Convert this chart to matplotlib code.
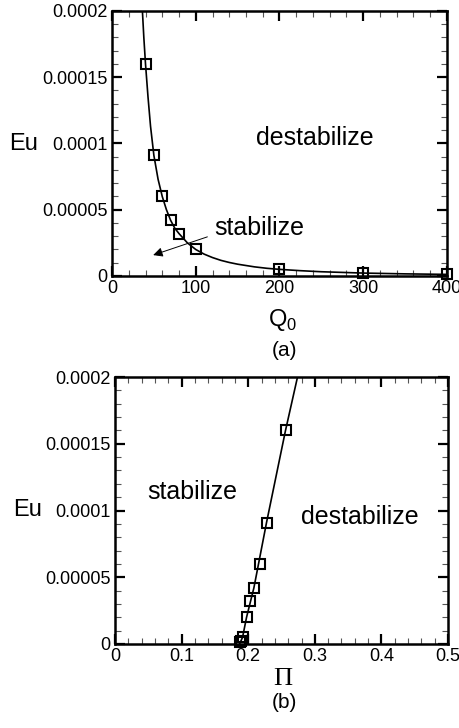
import matplotlib
matplotlib.use('Agg')
from matplotlib import pyplot as plt
from matplotlib.ticker import MultipleLocator, FixedFormatter, FixedLocator

plt.rcParams['font.family'] = ['Liberation Sans', 'DejaVu Sans']

# measured points (squares)
q0 = [40, 50, 60, 70, 80, 100, 200, 300, 400]
eu = [0.00016, 0.000091, 0.00006, 0.000042, 0.000032, 0.00002, 0.000005, 0.0000022, 0.0000012]
pi_vals = [0.256, 0.2275, 0.2175, 0.2085, 0.2025, 0.1975, 0.1915, 0.1895, 0.188]

# boundary curves
curve_q = [36.3, 38, 40, 43, 46, 50, 55, 60, 65, 70, 75, 80, 90, 100, 110, 120, 130, 140, 150,
           170, 185, 200, 225, 250, 275, 300, 350, 400]
curve_eu = [0.0002, 0.00018, 0.00016, 0.000135, 0.000113, 0.000091, 0.000073, 0.00006, 0.00005,
            0.000042, 0.000036, 0.000032, 0.000025, 0.00002, 0.0000165, 0.0000139, 0.0000118,
            0.0000102, 0.0000089, 0.0000069, 0.0000058, 0.000005, 0.000004, 0.0000032,
            0.0000027, 0.0000022, 0.0000016, 0.0000012]
line_pi = [0.187, 0.1915, 0.1975, 0.2085, 0.2275, 0.256, 0.274]
line_eu = [0.0, 0.000005, 0.00002, 0.000042, 0.000091, 0.00016, 0.0002]

eu_ticks = [0, 0.00005, 0.0001, 0.00015, 0.0002]
eu_labels = ['0', '0.00005', '0.0001', '0.00015', '0.0002']

fig = plt.figure(figsize=(4.6, 7.28), dpi=100)
ax1 = fig.add_axes([0.2435, 0.6209, 0.7282, 0.364])
ax2 = fig.add_axes([0.25, 0.1154, 0.724, 0.3667])


def style(ax, xticks, xlabels, xmin):
    ax.yaxis.set_major_locator(FixedLocator(eu_ticks))
    ax.yaxis.set_major_formatter(FixedFormatter(eu_labels))
    ax.yaxis.set_minor_locator(MultipleLocator(0.00001))
    ax.xaxis.set_major_locator(FixedLocator(xticks))
    ax.xaxis.set_major_formatter(FixedFormatter(xlabels))
    ax.xaxis.set_minor_locator(MultipleLocator(xmin))
    ax.tick_params(which='both', direction='in', top=True, right=True, labelsize=13, pad=3)
    ax.tick_params(which='major', length=7, width=1.6)
    ax.tick_params(which='minor', length=4, width=0.8, color='#555555')
    for s in ax.spines.values():
        s.set_linewidth(1.8)
    ax.set_ylim(0, 0.0002)


ax1.plot(curve_q, curve_eu, color='black', lw=1.2)
ax1.plot(q0, eu, ls='none', marker='s', ms=6.5, mfc='none', mec='black', mew=1.5, clip_on=False)
ax1.set_xlim(0, 400)
style(ax1, [0, 100, 200, 300, 400], ['0', '100', '200', '300', '400'], 20)
ax1.text(242, 0.000104, 'destabilize', fontsize=18, ha='center', va='center')
ax1.text(176, 0.0000365, 'stabilize', fontsize=18, ha='center', va='center')
ax1.annotate('', xy=(46, 0.0000151), xytext=(117, 0.0000302),
             arrowprops=dict(arrowstyle='-|>', color='black', lw=0.7, mutation_scale=14))

ax2.plot(line_pi, line_eu, color='black', lw=1.2)
ax2.plot(pi_vals, eu, ls='none', marker='s', ms=6.5, mfc='none', mec='black', mew=1.5, clip_on=False)
ax2.set_xlim(0, 0.5)
style(ax2, [0, 0.1, 0.2, 0.3, 0.4, 0.5], ['0', '0.1', '0.2', '0.3', '0.4', '0.5'], 0.02)
ax2.text(0.116, 0.000114, 'stabilize', fontsize=18, ha='center', va='center')
ax2.text(0.368, 0.000095, 'destabilize', fontsize=18, ha='center', va='center')

fig.text(24 / 460, 1 - 144 / 728, 'Eu', fontsize=17, ha='center', va='center')
fig.text(28 / 460, 1 - 510 / 728, 'Eu', fontsize=17, ha='center', va='center')
fig.text(283 / 460, 1 - 320 / 728, 'Q$_\\mathregular{0}$', fontsize=17, ha='center', va='center')
fig.text(283 / 460, 1 - 679 / 728, '\u03a0', fontsize=19, ha='center', va='center',
         family=['Liberation Serif', 'DejaVu Serif'])
fig.text(285 / 460, 1 - 350 / 728, '(a)', fontsize=15, ha='center', va='center')
fig.text(284 / 460, 1 - 702 / 728, '(b)', fontsize=15, ha='center', va='center')

fig.savefig('out.png', dpi=100)
